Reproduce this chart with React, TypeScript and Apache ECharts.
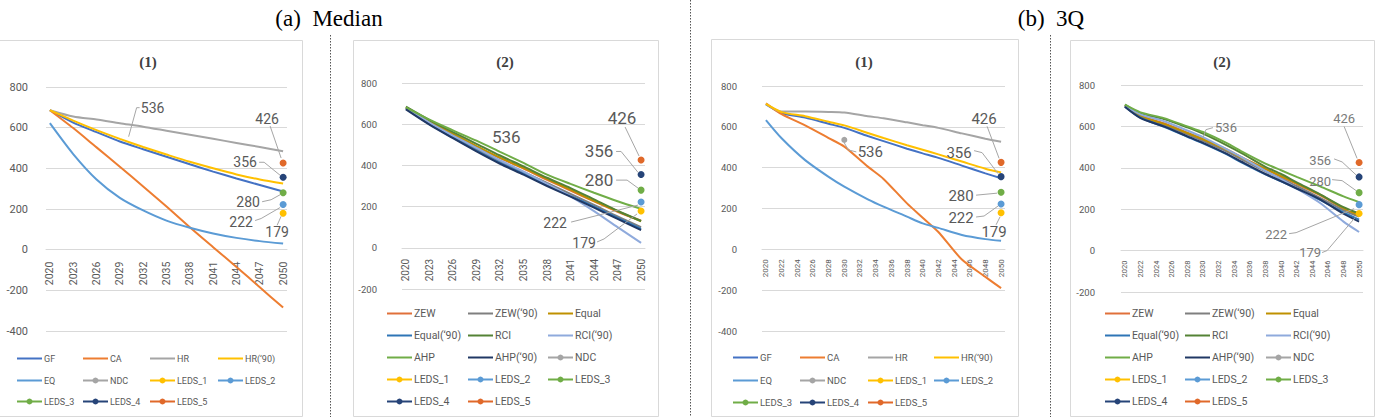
import React, { useEffect, useRef } from 'react';
import * as echarts from 'echarts';

// ---------- categories ----------
const YEARS = ['2020','2021','2022','2023','2024','2025','2026','2027','2028','2029','2030','2031','2032','2033','2034','2035','2036','2037','2038','2039','2040','2041','2042','2043','2044','2045','2046','2047','2048','2049','2050'];
const YEARS_A = ['2020','2023','2026','2029','2032','2035','2038','2041','2044','2047','2050'];
const YEARS_C = ['2020','2022','2025','2028','2030','2033','2035','2038','2040','2042','2045','2048','2050'];

// ---------- (a) Median (1) ----------
const MED1_GF = [686, 625, 578, 532, 494, 457, 420, 384, 350, 318, 286];
const MED1_CA = [686, 598, 503, 408, 311, 212, 110, 12, -85, -185, -285];
const MED1_HR = [686, 655, 640, 622, 605, 585, 565, 545, 525, 505, 484];
const MED1_HR90 = [686, 635, 588, 545, 505, 468, 432, 400, 370, 345, 325];
const MED1_EQ = [622, 470, 345, 255, 193, 143, 108, 80, 58, 42, 30];

// ---------- (a) Median (2) ----------
const MED2_ZEW = [680, 612, 550, 490, 435, 385, 330, 278, 225, 175, 132];
const MED2_ZEW90 = [678, 605, 540, 478, 420, 368, 315, 262, 208, 152, 100];
const MED2_EQUAL = [682, 615, 553, 494, 438, 388, 335, 282, 228, 178, 128];
const MED2_EQUAL90 = [675, 600, 535, 472, 412, 360, 305, 252, 200, 145, 92];
const MED2_RCI = [685, 620, 562, 505, 448, 395, 340, 290, 235, 180, 130];
const MED2_RCI90 = [678, 608, 545, 485, 425, 370, 310, 250, 178, 100, 24];
const MED2_AHP = [682, 622, 570, 520, 466, 412, 355, 310, 267, 226, 189];
const MED2_AHP90 = [672, 598, 532, 468, 408, 355, 300, 248, 195, 140, 86];

// ---------- (b) 3Q (1) ----------
const Q1_GF = [710, 668, 645, 615, 595, 555, 530, 493, 470, 448, 410, 372, 348];
const Q1_CA = [715, 662, 607, 545, 503, 405, 345, 225, 155, 85, -50, -135, -190];
const Q1_HR = [712, 675, 675, 673, 670, 652, 642, 622, 608, 595, 568, 542, 527];
const Q1_HR90 = [712, 672, 652, 625, 607, 570, 545, 510, 488, 465, 430, 395, 377];
const Q1_EQ = [633, 544, 437, 355, 307, 245, 209, 160, 127, 105, 70, 50, 42];

// ---------- (b) 3Q (2) ----------
const Q2_ZEW = [700, 652, 615, 570, 540, 490, 450, 395, 358, 322, 268, 205, 175];
const Q2_ZEW90 = [698, 648, 608, 562, 530, 480, 440, 383, 348, 312, 255, 195, 165];
const Q2_EQUAL = [702, 650, 612, 568, 538, 488, 448, 395, 360, 325, 270, 205, 170];
const Q2_EQUAL90 = [695, 642, 598, 550, 518, 466, 425, 368, 335, 300, 245, 185, 150];
const Q2_RCI = [705, 662, 635, 595, 565, 510, 470, 405, 370, 330, 272, 210, 180];
const Q2_RCI90 = [700, 658, 625, 580, 548, 490, 450, 385, 345, 300, 230, 140, 90];
const Q2_AHP = [705, 668, 640, 600, 573, 520, 478, 420, 388, 356, 310, 262, 234];
const Q2_AHP90 = [695, 640, 600, 552, 520, 468, 428, 370, 336, 300, 248, 178, 140];

// ---------- reference points ----------
const NDC_YEAR = '2030';
const NDC_VALUE = 536;
const LEDS_YEAR = '2050';
const LEDS_NAMES = ['LEDS_1', 'LEDS_2', 'LEDS_3', 'LEDS_4', 'LEDS_5'];
const LEDS_VALUES = [179, 222, 280, 356, 426];

// ---------- style ----------
const FONT = 'Roboto, "Noto Sans", sans-serif';
const SERIF = '"Liberation Serif", "DejaVu Serif", serif';
const GRID_C = '#D9D9D9';
const TXT = '#595959';
const N_HR90 = 'HR(\u201890)';
const N_ZEW90 = 'ZEW(\u201890)';
const N_EQUAL90 = 'Equal(\u201890)';
const N_RCI90 = 'RCI(\u201890)';
const N_AHP90 = 'AHP(\u201890)';
const COLOR: Record<string, string> = {
  GF: '#4472C4', CA: '#ED7D31', HR: '#A5A5A5', [N_HR90]: '#FFC000', EQ: '#5B9BD5', NDC: '#A5A5A5',
  ZEW: '#E0703A', [N_ZEW90]: '#7F7F7F', Equal: '#BF9000', [N_EQUAL90]: '#2E75B6',
  RCI: '#548235', [N_RCI90]: '#8FAADC', AHP: '#70AD47', [N_AHP90]: '#203864',
  LEDS_1: '#FFC000', LEDS_2: '#5B9BD5', LEDS_3: '#70AD47', LEDS_4: '#264478', LEDS_5: '#E0692A',
};
const MARKED = ['NDC', ...LEDS_NAMES];

function lineSeries(name: string, years: string[], values: number[], g: number) {
  const color = COLOR[name];
  return {
    type: 'line', name, xAxisIndex: g, yAxisIndex: g,
    data: years.map((y, i) => [y, values[i]]),
    symbol: 'none', smooth: 0.25,
    lineStyle: { color, width: 2 }, itemStyle: { color }, z: 2,
  };
}
function pointSeries(name: string, year: string, value: number, g: number, size: number, z: number) {
  const color = COLOR[name];
  return {
    type: 'line', name, xAxisIndex: g, yAxisIndex: g,
    data: [[year, value]], symbol: 'circle', symbolSize: size, showSymbol: true,
    lineStyle: { color, width: 2 }, itemStyle: { color }, z,
  };
}
function refSeries(g: number, size: number, ndcZ: number) {
  const out: any[] = [pointSeries('NDC', NDC_YEAR, NDC_VALUE, g, size - 1, ndcZ)];
  LEDS_NAMES.forEach((n, i) => out.push(pointSeries(n, LEDS_YEAR, LEDS_VALUES[i], g, size, 4)));
  return out;
}

// panel layout
const GRIDS = [
  { left: 46, top: 87, width: 241, height: 244 },
  { left: 402, top: 83, width: 243, height: 206 },
  { left: 762, top: 86, width: 243, height: 245 },
  { left: 1121, top: 85, width: 242, height: 207 },
];
const Y_MIN = [-400, -200, -400, -200];
const Y_MAX = 800;
const Y_FONT = [11, 9.5, 9.5, 9.5];
const Y_MARGIN = [18, 25, 25, 26];
const X_FONT = [10.5, 10, 8, 7.5];
const X_INTERVAL = [2, 2, 1, 1];
const X_MARGIN = [12, 11, 10, 10];

const LEG1_COLS = [['GF', 'EQ', 'LEDS_3'], ['CA', 'NDC', 'LEDS_4'], ['HR', 'LEDS_1', 'LEDS_5'], [N_HR90, 'LEDS_2']];
const LEG2_COLS = [
  ['ZEW', N_EQUAL90, 'AHP', 'LEDS_1', 'LEDS_4'],
  [N_ZEW90, 'RCI', N_AHP90, 'LEDS_2', 'LEDS_5'],
  ['Equal', N_RCI90, 'NDC', 'LEDS_3'],
];
const LEGENDS = [
  { cols: LEG1_COLS, xs: [17, 83, 150, 218], y0: 358, dy: 21.5, font: 9 },
  { cols: LEG2_COLS, xs: [387, 468, 548], y0: 313, dy: 22, font: 10.5 },
  { cols: LEG1_COLS, xs: [733, 800, 868, 934], y0: 357, dy: 22.5, font: 9.5 },
  { cols: LEG2_COLS, xs: [1105, 1185, 1266], y0: 313, dy: 22, font: 10.5 },
];

// label annotation layout: text offset + leader points, for NDC then LEDS_1..5
type Ann = { t: number[]; l: number[][] };
const ANN: { font: number[]; color: string; ndc: Ann; leds: Ann[] }[] = [
  {
    font: [14, 14], color: TXT,
    ndc: { t: [25, -33], l: [[12, -33], [9, -33], [1, -4]] },
    leds: [
      { t: [-6, 19], l: [[-6, 12], [-2, 3]] },
      { t: [-42, 17], l: [[-28, 16], [-22, 14], [-3, 3]] },
      { t: [-35, 9], l: [[-21, 9], [-12, 7], [-3, 2]] },
      { t: [-38, -15], l: [[-24, -15], [-19, -15], [-3, -2]] },
      { t: [-16, -44], l: [[-13, -37], [-2, -5]] },
    ],
  },
  {
    font: [17, 14], color: TXT,
    ndc: { t: [22, 0], l: [] },
    leds: [
      { t: [-57, 32], l: [[-44, 31], [-37, 28], [-4, 3]] },
      { t: [-86, 21], l: [[-70, 20], [-62, 18], [-3, 3]] },
      { t: [-42, -10], l: [[-25, -10], [-14, -10], [-3, -2]] },
      { t: [-42, -23], l: [[-25, -23], [-20, -23], [-3, -2]] },
      { t: [-19, -42], l: [[-16, -33], [-2, -4]] },
    ],
  },
  {
    font: [15, 15], color: TXT,
    ndc: { t: [26, 12], l: [[12, 12], [4, 10], [0, 3]] },
    leds: [
      { t: [-7, 19], l: [[-5, 12], [-1, 4]] },
      { t: [-40, 14], l: [[-25, 13], [-17, 12], [-3, 2]] },
      { t: [-40, 4], l: [[-25, 3], [-4, 1]] },
      { t: [-42, -24], l: [[-27, -26], [-19, -24], [-3, -3]] },
      { t: [-17, -43], l: [[-14, -36], [-2, -4]] },
    ],
  },
  {
    font: [13, 13], color: '#7A7A7A',
    ndc: { t: [23, -12], l: [[10, -12], [3, -10], [0, -2]] },
    leds: [
      { t: [-49, 39], l: [[-37, 39], [-32, 37], [-4, 4]] },
      { t: [-83, 30], l: [[-70, 29], [-63, 28], [-5, 4]] },
      { t: [-39, -11], l: [[-27, -13], [-17, -12], [-3, -2]] },
      { t: [-39, -16], l: [[-25, -18], [-17, -15], [-3, -2]] },
      { t: [-15, -44], l: [[-15, -36], [-2, -4]] },
    ],
  },
];

export default function App() {
  const ref = useRef<HTMLDivElement>(null);
  useEffect(() => {
    if (!ref.current) return;
    const chart = echarts.init(ref.current, null, { renderer: 'svg' });
    const series: any[] = [
      lineSeries('GF', YEARS_A, MED1_GF, 0),
      lineSeries('CA', YEARS_A, MED1_CA, 0),
      lineSeries('HR', YEARS_A, MED1_HR, 0),
      lineSeries(N_HR90, YEARS_A, MED1_HR90, 0),
      lineSeries('EQ', YEARS_A, MED1_EQ, 0),
      ...refSeries(0, 7, 1),
      lineSeries('ZEW', YEARS_A, MED2_ZEW, 1),
      lineSeries(N_ZEW90, YEARS_A, MED2_ZEW90, 1),
      lineSeries('Equal', YEARS_A, MED2_EQUAL, 1),
      lineSeries(N_EQUAL90, YEARS_A, MED2_EQUAL90, 1),
      lineSeries('RCI', YEARS_A, MED2_RCI, 1),
      lineSeries(N_RCI90, YEARS_A, MED2_RCI90, 1),
      lineSeries('AHP', YEARS_A, MED2_AHP, 1),
      lineSeries(N_AHP90, YEARS_A, MED2_AHP90, 1),
      ...refSeries(1, 7, 4),
      lineSeries('GF', YEARS_C, Q1_GF, 2),
      lineSeries('CA', YEARS_C, Q1_CA, 2),
      lineSeries('HR', YEARS_C, Q1_HR, 2),
      lineSeries(N_HR90, YEARS_C, Q1_HR90, 2),
      lineSeries('EQ', YEARS_C, Q1_EQ, 2),
      ...refSeries(2, 7, 4),
      lineSeries('ZEW', YEARS_C, Q2_ZEW, 3),
      lineSeries(N_ZEW90, YEARS_C, Q2_ZEW90, 3),
      lineSeries('Equal', YEARS_C, Q2_EQUAL, 3),
      lineSeries(N_EQUAL90, YEARS_C, Q2_EQUAL90, 3),
      lineSeries('RCI', YEARS_C, Q2_RCI, 3),
      lineSeries(N_RCI90, YEARS_C, Q2_RCI90, 3),
      lineSeries('AHP', YEARS_C, Q2_AHP, 3),
      lineSeries(N_AHP90, YEARS_C, Q2_AHP90, 3),
      ...refSeries(3, 7, 1),
    ];
    chart.setOption({
      animation: false,
      backgroundColor: '#fff',
      textStyle: { fontFamily: FONT },
      grid: GRIDS.map((g) => ({ ...g, outerBoundsMode: 'none', containLabel: false })),
      xAxis: GRIDS.map((gr, g) => ({
        type: 'category', gridIndex: g, data: YEARS, boundaryGap: true,
        position: 'bottom',
        // category axis sits on the value-axis zero line
        offset: -gr.height * (-Y_MIN[g]) / (Y_MAX - Y_MIN[g]),
        axisTick: { show: false },
        axisLine: { onZero: false, lineStyle: { color: GRID_C, width: 1 } },
        axisLabel: { interval: X_INTERVAL[g], rotate: 90, fontSize: X_FONT[g], color: TXT, margin: X_MARGIN[g], fontFamily: FONT },
        splitLine: { show: false },
      })),
      yAxis: GRIDS.map((_, g) => ({
        type: 'value', gridIndex: g, min: Y_MIN[g], max: Y_MAX, interval: 200,
        axisLine: { show: false }, axisTick: { show: false },
        splitLine: { lineStyle: { color: GRID_C, width: 1 } },
        axisLabel: { fontSize: Y_FONT[g], color: TXT, margin: Y_MARGIN[g], fontFamily: FONT },
      })),
      series,
    });

    const gfx: any[] = [];
    const frames = [
      [-1, 40, 303, 376], [353, 40, 305, 376], [711, 39, 307, 377], [1070, 40, 304, 376],
    ];
    frames.forEach(([x, y, w, h]) => gfx.push({
      type: 'rect', silent: true, z: -10, shape: { x: x + 0.5, y: y + 0.5, width: w, height: h },
      style: { fill: 'none', stroke: '#D9D9D9', lineWidth: 1 },
    }));
    [[330, 35], [690, 0], [1050, 35]].forEach(([x, y0]) => gfx.push({
      type: 'line', silent: true, shape: { x1: x + 0.5, y1: y0, x2: x + 0.5, y2: 417 },
      style: { stroke: '#555', lineWidth: 1, lineDash: [1.5, 1.5] },
    }));
    const titles: [string, number, number][] = [['(a)  Median', 329, 18], ['(b)  3Q', 1051, 18]];
    titles.forEach(([t, x, y]) => gfx.push({
      type: 'text', x, y, silent: true,
      style: { text: t, font: `23px ${SERIF}`, fill: '#000', align: 'center', verticalAlign: 'middle', textAlign: 'center', textVerticalAlign: 'middle' },
    }));
    const subs: [string, number, number][] = [['(1)', 148, 62], ['(2)', 505, 62], ['(1)', 864, 62], ['(2)', 1222, 62]];
    subs.forEach(([t, x, y]) => gfx.push({
      type: 'text', x, y, silent: true,
      style: { text: t, font: `bold 15px ${SERIF}`, fill: '#404040', align: 'center', verticalAlign: 'middle', textAlign: 'center', textVerticalAlign: 'middle' },
    }));

    // legends (Excel-style fixed columns)
    LEGENDS.forEach((lg) => {
      lg.cols.forEach((names, ci) => {
        names.forEach((name, ri) => {
          const x = lg.xs[ci];
          const y = Math.round(lg.y0 + ri * lg.dy) + 0.5;
          const color = COLOR[name];
          gfx.push({ type: 'line', silent: true, shape: { x1: x, y1: y, x2: x + 25, y2: y }, style: { stroke: color, lineWidth: 2 } });
          if (MARKED.includes(name)) {
            gfx.push({ type: 'circle', silent: true, shape: { cx: x + 12.5, cy: y, r: 3 }, style: { fill: color } });
          }
          gfx.push({
            type: 'text', silent: true, x: x + 27, y,
            style: { text: name, font: `${lg.font}px ${FONT}`, fill: TXT, align: 'left', verticalAlign: 'middle', textAlign: 'left', textVerticalAlign: 'middle' },
          });
        });
      });
    });

    const addAnn = (g: number, year: string, value: number, a: Ann, font: number, color: string) => {
      const p = chart.convertToPixel({ gridIndex: g } as any, [YEARS.indexOf(year), value]) as number[];
      if (!p) return;
      const [px, py] = p;
      if (a.l.length) {
        gfx.push({
          type: 'polyline', silent: true, z: 20,
          shape: { points: a.l.map(([dx, dy]) => [px + dx, py + dy]) },
          style: { stroke: '#A6A6A6', lineWidth: 1, fill: 'none' },
        });
      }
      gfx.push({
        type: 'text', x: px + a.t[0], y: py + a.t[1], silent: true, z: 21,
        style: { text: String(value), font: `${font}px ${FONT}`, fill: color, align: 'center', verticalAlign: 'middle', textAlign: 'center', textVerticalAlign: 'middle' },
      });
    };
    ANN.forEach((spec, g) => {
      addAnn(g, NDC_YEAR, NDC_VALUE, spec.ndc, spec.font[0], spec.color);
      LEDS_VALUES.forEach((v, i) => addAnn(g, LEDS_YEAR, v, spec.leds[i], i < 2 ? spec.font[1] : spec.font[0], spec.color));
    });
    chart.setOption({ graphic: gfx });

    return () => chart.dispose();
  }, []);
  return (
    <div
      ref={ref}
      style={{ position: 'absolute', left: 0, top: 0, width: 1380, height: 417, background: '#fff' }}
    />
  );
}
